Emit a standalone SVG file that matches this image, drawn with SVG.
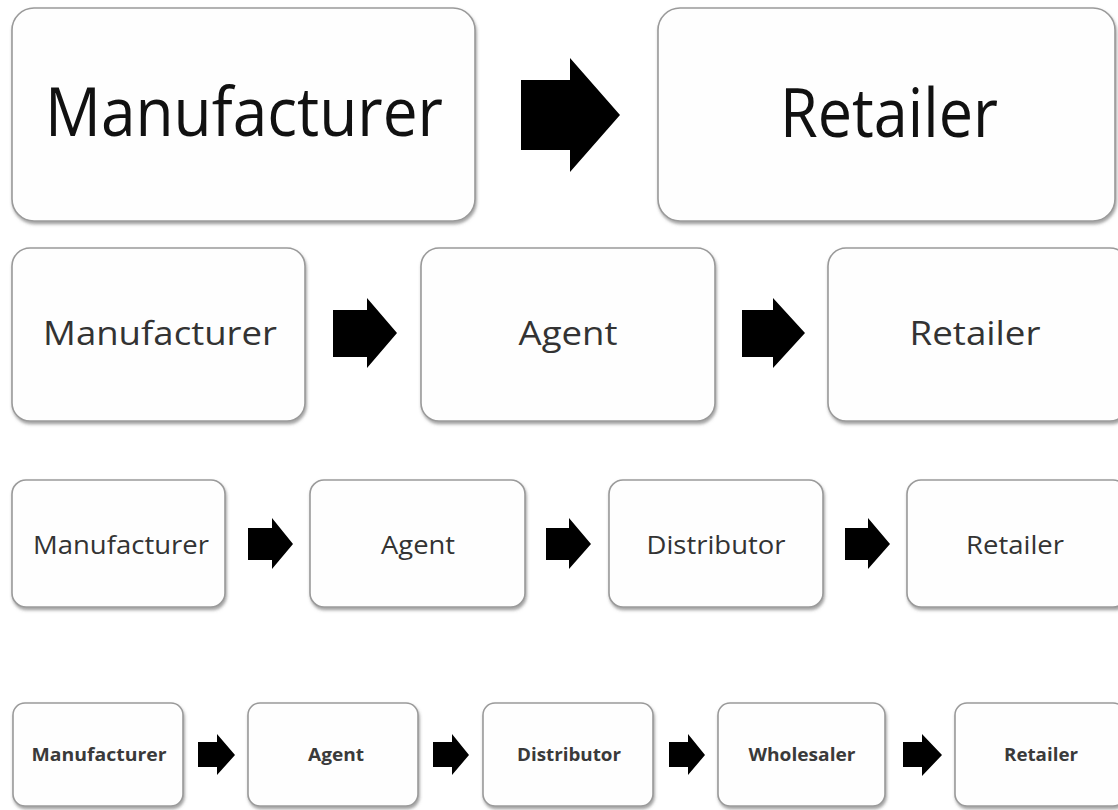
<svg xmlns="http://www.w3.org/2000/svg" width="1118" height="810" viewBox="0 0 1118 810">
  <defs>
    <filter id="shadow" x="-5%" y="-5%" width="115%" height="120%">
      <feDropShadow dx="1" dy="2.5" stdDeviation="1.5" flood-color="#555" flood-opacity="0.55"/>
    </filter>
    <filter id="soft" x="-10%" y="-10%" width="130%" height="130%">
      <feGaussianBlur stdDeviation="0.6"/>
    </filter>
  </defs>
  <style>
    .box { fill: #fefefe; stroke: #9a9a9a; stroke-width: 1.6; filter: url(#shadow); }
    .lbl { font-family: "Open Sans", "Liberation Sans", sans-serif; text-anchor: middle; fill: #333; }
    .big { fill: #111; }
    .small { font-weight: bold; fill: #3a3a3a; }
    .arrow { fill: #000; filter: url(#soft); }
  </style>
  <rect width="1118" height="810" fill="#ffffff"/>

  <!-- Row 1: Manufacturer -> Retailer -->
  <g id="r1-manufacturer">
    <rect class="box" x="12" y="8" width="463" height="213" rx="22"/>
    <text class="lbl big" x="244" y="136" font-size="67" textLength="398" lengthAdjust="spacingAndGlyphs">Manufacturer</text>
  </g>
  <g id="r1-retailer">
    <rect class="box" x="658" y="8" width="457" height="213" rx="22"/>
    <text class="lbl big" x="889" y="137" font-size="67" textLength="218" lengthAdjust="spacingAndGlyphs">Retailer</text>
  </g>

  <!-- Row 2: Manufacturer -> Agent -> Retailer -->
  <g id="r2-manufacturer">
    <rect class="box" x="12" y="248" width="293" height="173" rx="18"/>
    <text class="lbl" x="160" y="345" font-size="33" textLength="234" lengthAdjust="spacingAndGlyphs">Manufacturer</text>
  </g>
  <g id="r2-agent">
    <rect class="box" x="421" y="248" width="294" height="173" rx="18"/>
    <text class="lbl" x="568" y="345" font-size="33" textLength="99" lengthAdjust="spacingAndGlyphs">Agent</text>
  </g>
  <g id="r2-retailer">
    <rect class="box" x="828" y="248" width="300" height="173" rx="18"/>
    <text class="lbl" x="975" y="345" font-size="33" textLength="131" lengthAdjust="spacingAndGlyphs">Retailer</text>
  </g>

  <!-- Row 3: Manufacturer -> Agent -> Distributor -> Retailer -->
  <g id="r3-manufacturer">
    <rect class="box" x="12" y="480" width="213" height="127" rx="14"/>
    <text class="lbl" x="121" y="554" font-size="25" textLength="176" lengthAdjust="spacingAndGlyphs">Manufacturer</text>
  </g>
  <g id="r3-agent">
    <rect class="box" x="310" y="480" width="215" height="127" rx="14"/>
    <text class="lbl" x="418" y="554" font-size="25" textLength="74" lengthAdjust="spacingAndGlyphs">Agent</text>
  </g>
  <g id="r3-distributor">
    <rect class="box" x="609" y="480" width="214" height="127" rx="14"/>
    <text class="lbl" x="716" y="554" font-size="25" textLength="139" lengthAdjust="spacingAndGlyphs">Distributor</text>
  </g>
  <g id="r3-retailer">
    <rect class="box" x="907" y="480" width="220" height="127" rx="14"/>
    <text class="lbl" x="1015" y="554" font-size="25" textLength="98" lengthAdjust="spacingAndGlyphs">Retailer</text>
  </g>

  <!-- Row 4: Manufacturer -> Agent -> Distributor -> Wholesaler -> Retailer -->
  <g id="r4-manufacturer">
    <rect class="box" x="13" y="703" width="170" height="103" rx="12"/>
    <text class="lbl small" x="99" y="761" font-size="17.5" textLength="135" lengthAdjust="spacingAndGlyphs">Manufacturer</text>
  </g>
  <g id="r4-agent">
    <rect class="box" x="248" y="703" width="170" height="103" rx="12"/>
    <text class="lbl small" x="336" y="761" font-size="17.5" textLength="56" lengthAdjust="spacingAndGlyphs">Agent</text>
  </g>
  <g id="r4-distributor">
    <rect class="box" x="483" y="703" width="170" height="103" rx="12"/>
    <text class="lbl small" x="569" y="761" font-size="17.5" textLength="104" lengthAdjust="spacingAndGlyphs">Distributor</text>
  </g>
  <g id="r4-wholesaler">
    <rect class="box" x="718" y="703" width="167" height="103" rx="12"/>
    <text class="lbl small" x="802" y="761" font-size="17.5" textLength="107" lengthAdjust="spacingAndGlyphs">Wholesaler</text>
  </g>
  <g id="r4-retailer">
    <rect class="box" x="955" y="703" width="170" height="103" rx="12"/>
    <text class="lbl small" x="1041" y="761" font-size="17.5" textLength="74" lengthAdjust="spacingAndGlyphs">Retailer</text>
  </g>

  <!-- Block arrows between stages -->
  <g id="connectors">
    <polygon class="arrow" points="521,80 570,80 570,58 620,115 570,172 570,150 521,150"/>

    <polygon class="arrow" points="333,310 367,310 367,298 397,333 367,368 367,357 333,357"/>
    <polygon class="arrow" points="742,310 773,310 773,298 805,333 773,368 773,357 742,357"/>

    <polygon class="arrow" points="248,528 272,528 272,518 293,544 272,569 272,560 248,560"/>
    <polygon class="arrow" points="546,528 569,528 569,518 591,544 569,569 569,560 546,560"/>
    <polygon class="arrow" points="845,528 868,528 868,518 890,544 868,569 868,560 845,560"/>

    <polygon class="arrow" points="198,742 217,742 217,734 235,755 217,775 217,767 198,767"/>
    <polygon class="arrow" points="433,742 452,742 452,734 469,755 452,775 452,767 433,767"/>
    <polygon class="arrow" points="669,742 688,742 688,734 705,755 688,775 688,767 669,767"/>
    <polygon class="arrow" points="903,742 922,742 922,734 942,755 922,776 922,767 903,767"/>
  </g>
</svg>
